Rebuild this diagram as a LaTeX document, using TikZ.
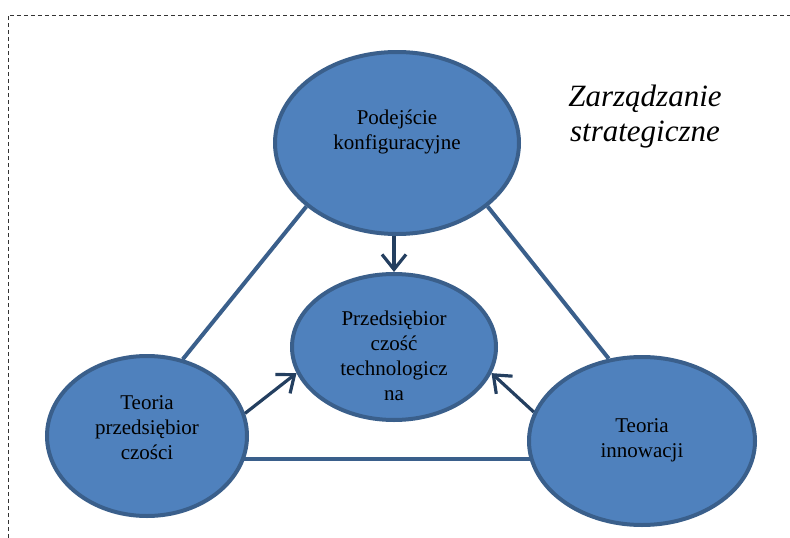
\documentclass[tikz,border=0pt]{standalone}
\usepackage{fontspec}
\setmainfont{Liberation Serif}
\usetikzlibrary{shapes.geometric,arrows.meta}
\pgfdeclarelayer{bg}\pgfsetlayers{bg,main}
\definecolor{fillb}{HTML}{4F81BD}
\definecolor{edgeb}{HTML}{3A5F8B}
\definecolor{arrb}{HTML}{243F60}
\begin{document}
\begin{tikzpicture}[x=1pt,y=-1pt,
  oval/.style={ellipse, draw=edgeb, fill=fillb, line width=4pt, inner sep=0pt},
  lbl/.style={align=center, font=\fontsize{21}{25}\selectfont, inner sep=0pt},
  link/.style={draw=edgeb, line width=4pt},
  arr/.style={draw=arrb, line width=3.2pt, -{Straight Barb[length=15pt,width=24pt]}},
  frame/.style={dash pattern=on 4pt off 3pt, line width=1pt, draw=black!80}
]
\useasboundingbox (0,0) rectangle (790,538);
\coordinate (fa) at (8,538);
\coordinate (fb) at (8,15);
\coordinate (fc) at (790,15);
\draw[frame] (fa) -- (fb) -- (fc);

\node[oval, minimum width=244pt, minimum height=182pt] (top) at (397,143) {};
\node[oval, minimum width=204pt, minimum height=146pt] (ctr) at (394,347) {};
\node[oval, minimum width=200pt, minimum height=160pt] (left) at (147,436) {};
\node[oval, minimum width=226pt, minimum height=168pt] (right) at (642,441) {};

\node[lbl] (toptxt) at (397,132) {Podejście\\konfiguracyjne};
\node[lbl] (ctrtxt) at (394,356) {Przedsiębior\\czość\\technologicz\\na};
\node[lbl] (lefttxt) at (147,428) {Teoria\\przedsiębior\\czości};
\node[lbl] (righttxt) at (642,440) {Teoria\\innowacji};

\node[align=center, font=\fontsize{31}{35}\selectfont\itshape, inner sep=0pt] (title) at (645,117) {Zarządzanie\\strategiczne};

\begin{pgfonlayer}{bg}
\draw[link] (top.215) -- (left.65);
\draw[link] (top.325) -- (right.112);
\draw[link] ([yshift=-23pt]left.center) -- ([yshift=-23pt]left.center -| right.center);
\end{pgfonlayer}

\draw[arr] (top.south -| ctr.north) -- (ctr.north);
\draw[arr] (left.13) -- (ctr.195);
\draw[arr] (right.165) -- (ctr.345);
\end{tikzpicture}
\end{document}
